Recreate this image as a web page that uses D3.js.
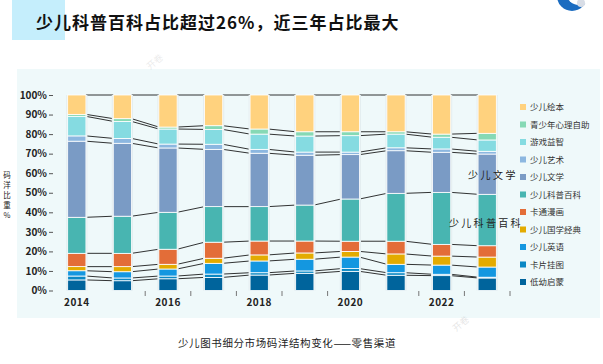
<!DOCTYPE html>
<html><head><meta charset="utf-8">
<script src="https://cdn.jsdelivr.net/npm/d3@7"></script>
<style>
body{margin:0;background:#fff;}
svg text{font-family:"Noto Sans CJK SC","Liberation Sans",sans-serif;}
</style></head>
<body><svg id="c" width="603" height="364"></svg>
<script>
const years = [2014,2015,2016,2017,2018,2019,2020,2021,2022,2023];
const seriesNames = ["低幼启蒙","卡片挂图","少儿英语","少儿国学经典","卡通漫画","少儿科普百科","少儿文学","少儿艺术","游戏益智","青少年心理自助","少儿绘本"];
const s_diyou   = [5.4,5.0,6.0,6.7,7.9,8.8,9.8,7.8,7.6,6.4];
const s_kapian  = [2.0,1.4,1.4,1.7,1.2,1.2,1.4,1.3,0.7,0.4];
const s_yingyu  = [2.7,3.2,3.6,5.5,6.0,6.0,5.9,4.3,4.7,5.2];
const s_guoxue  = [2.1,2.6,2.4,2.6,3.1,3.2,2.9,5.3,4.6,5.1];
const s_katong  = [6.8,6.8,7.7,8.2,7.1,6.1,5.2,6.5,6.0,5.8];
const s_kepu    = [18.4,19.0,18.9,18.2,17.6,18.4,21.6,24.5,26.6,26.3];
const s_wenxue  = [38.9,37.3,32.9,29.3,27.3,25.5,22.7,21.8,20.5,20.6];
const s_yishu   = [2.7,2.5,2.0,2.6,2.0,1.6,1.3,1.5,1.7,1.4];
const s_youxi   = [10.0,8.7,7.7,7.6,7.8,8.2,8.4,7.0,6.0,5.8];
const s_xinli   = [1.0,1.4,1.0,1.9,2.6,2.2,2.0,1.2,1.6,3.4];
const s_huiben  = [9.9,12.1,16.4,15.7,17.4,18.8,18.8,18.8,20.0,19.6];
const seriesValues = [s_diyou,s_kapian,s_yingyu,s_guoxue,s_katong,s_kepu,s_wenxue,s_yishu,s_youxi,s_xinli,s_huiben];
const colors = ["#00649c","#0a88c4","#1497e0","#e3ab00","#e36d38","#48b5b1","#7a9bc5","#8cb7e0","#85dbe1","#86d9b5","#ffd27e"];
const yTicks = [0,0.1,0.2,0.3,0.4,0.5,0.6,0.7,0.8,0.9,1];
const xLabelYears = [2014,2016,2018,2020,2022];
const legendOrder = ["少儿绘本","青少年心理自助","游戏益智","少儿艺术","少儿文学","少儿科普百科","卡通漫画","少儿国学经典","少儿英语","卡片挂图","低幼启蒙"];
const title = "少儿科普百科占比超过26%，近三年占比最大";
const caption = "少儿图书细分市场码洋结构变化——零售渠道";
const yTitle = "码洋比重%";

const table = years.map((y,i)=>{const o={year:y}; seriesNames.forEach((n,j)=>o[n]=seriesValues[j][i]); return o;});
const stacked = d3.stack().keys(seriesNames).offset(d3.stackOffsetExpand)(table);

const svg = d3.select("#c");
// title box
svg.append("rect").attr("x",12).attr("y",0).attr("width",53).attr("height",40).attr("fill","#c5eefc");
svg.append("text").attr("x",36).attr("y",29).attr("font-size",17).attr("font-weight","bold")
  .attr("letter-spacing",1).attr("fill","#111").text(title);
// logo
const lg = svg.append("g");
lg.append("circle").attr("cx",572).attr("cy",-4).attr("r",15).attr("fill","#1b6cc0");
lg.append("circle").attr("cx",579).attr("cy",-8).attr("r",13).attr("fill","#fff");
lg.append("circle").attr("cx",581).attr("cy",3).attr("r",4).attr("fill","#d8dde6");

// chart bg
svg.append("rect").attr("x",17).attr("y",69).attr("width",583).attr("height",249).attr("fill","#eff9fa");

const x = d3.scaleBand().domain(years).range([54,510]).paddingInner(0.6).paddingOuter(0.3);
const y = d3.scaleLinear().domain([0,1]).range([290.5,95]);
const bw = x.bandwidth(), step = x.step();

// watermarks
svg.append("text").attr("transform","translate(150,70) rotate(-40)").attr("font-size",9).attr("fill","#000").attr("opacity",0.08).text("开卷");
svg.append("text").attr("transform","translate(456,332) rotate(-40)").attr("font-size",9).attr("fill","#000").attr("opacity",0.1).text("开卷");

// connectors
const conn = svg.append("g");
stacked.forEach(layer=>{
  for(let i=0;i<years.length-1;i++){
    conn.append("line")
      .attr("x1",x(years[i])+bw).attr("y1",y(layer[i][1]))
      .attr("x2",x(years[i+1])).attr("y2",y(layer[i+1][1]))
      .attr("stroke","#111").attr("stroke-width",1).attr("opacity",0.85);
  }
});

// bar shadows
svg.append("g").selectAll("rect").data(years).join("rect")
  .attr("x",d=>x(d)-1.5).attr("y",y(1)).attr("width",bw+3).attr("height",y(0)-y(1))
  .attr("fill","#e4eef0");

// bars
svg.append("g").selectAll("g").data(stacked).join("g").attr("fill",(d,i)=>colors[i])
  .selectAll("rect").data(d=>d).join("rect")
  .attr("x",d=>x(d.data.year)).attr("y",d=>y(d[1])).attr("width",bw)
  .attr("height",d=>Math.max(0,y(d[0])-y(d[1])))
  .attr("stroke","#fff").attr("stroke-width",0.8);

// y axis
const ya = svg.append("g").attr("transform","translate(53,0)")
  .call(d3.axisLeft(y).tickValues(yTicks).tickFormat(d3.format(".0%")).tickSize(4).tickPadding(2));
ya.select(".domain").remove();
ya.selectAll("line").attr("stroke","#555");
ya.selectAll("text").attr("font-size",10).attr("font-weight","bold").attr("fill","#222")
  .attr("font-family","Liberation Sans, sans-serif");

// x axis
const xa = svg.append("g").attr("transform","translate(0,291)");
const tickKs = [2,3,4,5,6,8,9,10];
xa.selectAll("line").data(tickKs).join("line")
  .attr("x1",k=>x.range()[0]+k*step).attr("x2",k=>x.range()[0]+k*step)
  .attr("y1",0).attr("y2",5).attr("stroke","#777");
xa.selectAll("text").data(xLabelYears).join("text")
  .attr("x",d=>x(d)+bw/2).attr("y",15).attr("text-anchor","middle")
  .attr("font-size",10).attr("font-weight","bold").attr("letter-spacing",0.5)
  .attr("font-family","Liberation Sans, sans-serif").attr("fill","#222").text(d=>d);

// y title vertical
svg.append("g").selectAll("text").data(Array.from(yTitle)).join("text")
  .attr("x",7).attr("y",(d,i)=>178+i*10).attr("text-anchor","middle")
  .attr("font-size",7.5).attr("fill","#222").text(d=>d);

// annotations
svg.append("text").attr("x",468).attr("y",179).attr("font-size",10).attr("letter-spacing",2.5).attr("fill","#222").text("少儿文学");
svg.append("text").attr("x",449).attr("y",227).attr("font-size",10).attr("letter-spacing",2.3).attr("fill","#222").text("少儿科普百科");

// legend
const leg = svg.append("g").selectAll("g").data(legendOrder).join("g")
  .attr("transform",(d,i)=>`translate(520,${107+i*17.5})`);
leg.append("rect").attr("x",0).attr("y",-3).attr("width",6).attr("height",6)
  .attr("fill",d=>colors[seriesNames.indexOf(d)]);
leg.append("text").attr("x",10).attr("y",3).attr("font-size",8.5).attr("fill","#333").text(d=>d);

// caption
svg.append("text").attr("x",287).attr("y",347).attr("text-anchor","middle").attr("font-size",10.5)
  .attr("letter-spacing",0.6).attr("fill","#222").text(caption);
</script></body></html>
